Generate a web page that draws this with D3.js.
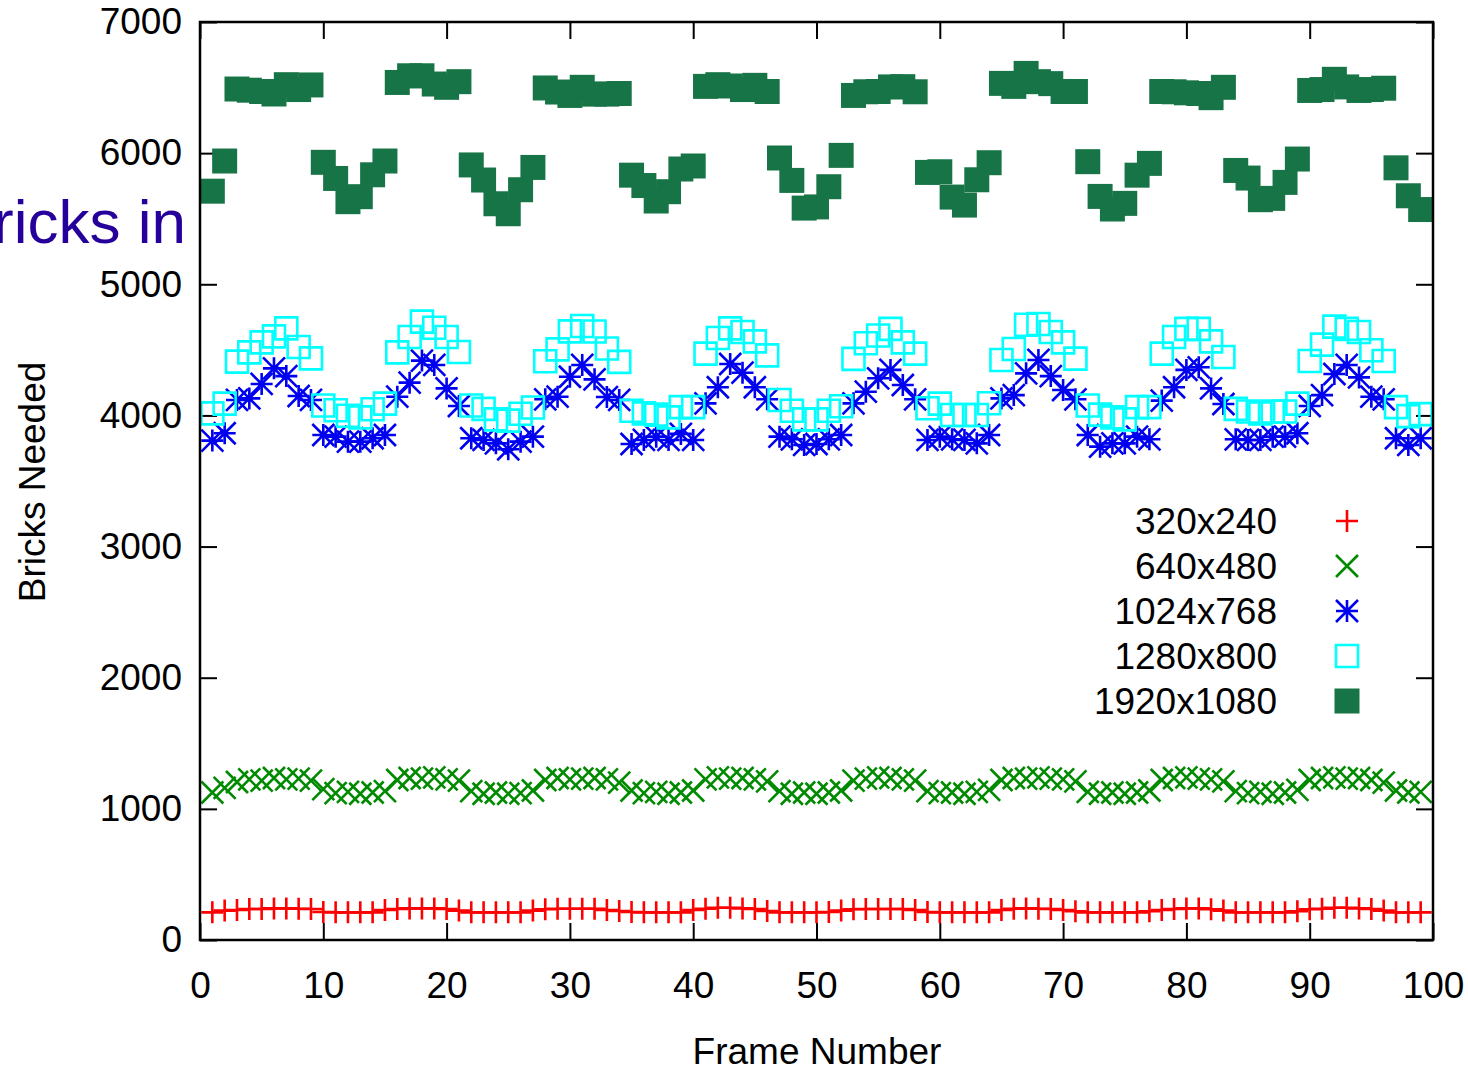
<!DOCTYPE html>
<html>
<head>
<meta charset="utf-8">
<script src="https://cdn.jsdelivr.net/npm/d3@7/dist/d3.min.js"></script>
<style>
  body { margin: 0; background: #fff; }
  text { font-family: "Liberation Sans", Arial, sans-serif; }
</style>
</head>
<body>
<div id="chart"></div>
<script>
// frame numbers on the x axis
var frames = d3.range(1, 100)

var res320 = [211,224,229,236,236,241,241,238,236,214, 211,211,211,211,229,236,241,241,241,236,
              224,211,211,211,211,211,224,234,238,238, 238,238,229,221,214,211,211,211,211,229,
              238,246,246,241,236,221,211,211,211,211, 214,224,234,236,236,236,236,229,214,211,
              211,211,211,211,229,238,241,238,236,229, 219,211,211,211,211,211,219,229,236,241,
              241,234,224,211,211,211,211,211,219,234, 238,246,246,241,236,224,211,211,211]

var res640 = [1125,1160,1205,1225,1215,1235,1225,1230,1215,1150, 1120,1130,1115,1125,1135,1220,1235,1230,1240,1225,
              1215,1135,1115,1125,1115,1120,1140,1220,1235,1225, 1230,1235,1225,1200,1140,1120,1130,1115,1125,1140,
              1225,1240,1230,1235,1225,1210,1135,1115,1125,1115, 1125,1140,1215,1230,1240,1235,1225,1215,1135,1120,
              1125,1115,1130,1145,1220,1235,1230,1240,1230,1225, 1210,1130,1115,1125,1115,1125,1140,1220,1235,1240,
              1230,1225,1210,1135,1120,1130,1115,1125,1145,1220, 1235,1240,1230,1235,1220,1200,1140,1125,1130]

var res1024 = [3808,3864,4118,4130,4240,4359,4300,4148,4118,3851, 3838,3800,3800,3826,3851,4143,4250,4418,4385,4206,
               4072,3826,3813,3787,3742,3800,3838,4123,4143,4295, 4385,4275,4140,4118,3782,3813,3838,3813,3859,3813,
               4092,4215,4392,4326,4215,4123,3838,3818,3775,3782, 3818,3851,4092,4181,4283,4347,4232,4123,3813,3838,
               3818,3813,3787,3851,4130,4155,4321,4423,4300,4194, 4123,3851,3762,3787,3787,3838,3818,4113,4215,4347,
               4367,4206,4087,3818,3813,3813,3838,3838,3864,4072, 4155,4316,4385,4290,4143,4123,3826,3775,3826]

var res1280 = [4016,4090,4410,4481,4557,4603,4664,4522,4435,4076, 4040,3998,3985,4047,4090,4481,4598,4715,4669,4598,
               4484,4076,4050,3970,3960,4013,4060,4413,4504,4641, 4682,4640,4510,4408,4036,4016,4006,3985,4063,4063,
               4471,4590,4664,4636,4565,4458,4118,4036,3970,3970, 4036,4070,4431,4550,4610,4660,4557,4471,4055,4090,
               4003,4003,4003,4093,4423,4507,4692,4697,4636,4557, 4433,4076,4006,3985,3970,4063,4063,4471,4598,4660,
               4660,4565,4446,4050,4030,4016,4030,4030,4090,4415, 4540,4677,4660,4636,4497,4415,4063,3995,4010]

var res1920 = [5710,5940,6489,6480,6470,6451,6522,6485,6520,5930, 5807,5630,5668,5835,5940,6539,6590,6590,6527,6502,
               6545,5910,5795,5614,5538,5721,5891,6497,6466,6440, 6502,6450,6450,6455,5832,5753,5635,5706,5879,5902,
               6509,6522,6512,6485,6517,6470,5963,5792,5581,5590, 5744,5983,6440,6468,6470,6505,6507,6468,5853,5858,
               5665,5604,5797,5927,6532,6509,6608,6545,6530,6470, 6470,5935,5670,5574,5617,5832,5922,6470,6468,6460,
               6455,6423,6502,5868,5810,5645,5655,5777,5955,6478, 6485,6563,6505,6478,6485,6495,5888,5675,5570]

var seriesNames = ['320x240', '640x480', '1024x768', '1280x800', '1920x1080']
var xTicks = [0, 10, 20, 30, 40, 50, 60, 70, 80, 90, 100]
var yTicks = [0, 1000, 2000, 3000, 4000, 5000, 6000, 7000]

;(function () {

    var width = 1468, height = 1069

    var svg = d3.select('#chart')
        .append('svg')
        .attr('width', width)
        .attr('height', height)

    var x = d3.scaleLinear().domain([0, 100]).range([200, 1433])
    var y = d3.scaleLinear().domain([0, 7000]).range([940, 22])

    var fontSize = 37

    // point styles, gnuplot like
    var styles = [
        { color: '#ff0000', path: 'M-11,0H11M0,-11V11' },
        { color: '#008a00', path: 'M-11,-11L11,11M-11,11L11,-11' },
        { color: '#0000f0', path: 'M-11,0H11M0,-11V11M-11,-11L11,11M-11,11L11,-11' },
        { color: '#00ffff', path: 'M-11,-11H11V11H-11Z' },
        { color: '#177446', path: 'M-12.5,-12.5H12.5V12.5H-12.5Z', filled: true }
    ]

    var series = [res320, res640, res1024, res1280, res1920]

    // title fragment that sticks out on the left
    svg.append('text')
        .attr('x', 186)
        .attr('y', 243)
        .attr('text-anchor', 'end')
        .attr('font-size', 62)
        .attr('fill', '#25009a')
        .text('Bricks in')

    // axes with inward ticks
    var bottom = svg.append('g')
        .attr('transform', 'translate(0,940)')
        .call(d3.axisBottom(x).tickValues(xTicks).tickSize(-17).tickPadding(32).tickFormat(d3.format('d')))
    var top = svg.append('g')
        .attr('transform', 'translate(0,22)')
        .call(d3.axisTop(x).tickValues(xTicks).tickSize(-17).tickFormat(''))
    var left = svg.append('g')
        .attr('transform', 'translate(200,0)')
        .call(d3.axisLeft(y).tickValues(yTicks).tickSize(-17).tickPadding(18).tickFormat(d3.format('d')))
    var right = svg.append('g')
        .attr('transform', 'translate(1433,0)')
        .call(d3.axisRight(y).tickValues(yTicks).tickSize(-17).tickFormat(''))

    ;[bottom, top, left, right].forEach(function (g) {
        g.select('.domain').remove()
        g.selectAll('.tick line').attr('stroke', '#000').attr('stroke-width', 2)
        g.selectAll('.tick text')
            .attr('font-size', fontSize)
            .attr('font-family', '"Liberation Sans", Arial, sans-serif')
            .attr('fill', '#000')
    })

    // data points
    series.forEach(function (values, i) {
        var st = styles[i]
        svg.append('g')
            .selectAll('path')
            .data(values)
            .enter().append('path')
            .attr('transform', function (d, j) {
                return 'translate(' + x(frames[j]) + ',' + y(d) + ')'
            })
            .attr('d', st.path)
            .attr('fill', st.filled ? st.color : 'none')
            .attr('stroke', st.filled ? 'none' : st.color)
            .attr('stroke-width', 2.6)
    })

    // frame
    svg.append('rect')
        .attr('x', 200)
        .attr('y', 22)
        .attr('width', 1233)
        .attr('height', 918)
        .attr('fill', 'none')
        .attr('stroke', '#000')
        .attr('stroke-width', 2.5)

    // axis titles
    svg.append('text')
        .attr('x', 817)
        .attr('y', 1064)
        .attr('text-anchor', 'middle')
        .attr('font-size', fontSize)
        .text('Frame Number')

    svg.append('text')
        .attr('transform', 'translate(45,482) rotate(-90)')
        .attr('text-anchor', 'middle')
        .attr('font-size', fontSize)
        .text('Bricks Needed')

    // legend
    var legend = svg.append('g')
        .selectAll('g')
        .data(seriesNames)
        .enter().append('g')
        .attr('transform', function (d, i) { return 'translate(0,' + (521 + i * 45) + ')' })

    legend.append('text')
        .attr('x', 1277)
        .attr('y', 13)
        .attr('text-anchor', 'end')
        .attr('font-size', fontSize)
        .text(function (d) { return d })

    legend.append('path')
        .attr('transform', 'translate(1347,0)')
        .attr('d', function (d, i) { return styles[i].path })
        .attr('fill', function (d, i) { return styles[i].filled ? styles[i].color : 'none' })
        .attr('stroke', function (d, i) { return styles[i].filled ? 'none' : styles[i].color })
        .attr('stroke-width', 2.6)

})()
</script>
</body>
</html>
